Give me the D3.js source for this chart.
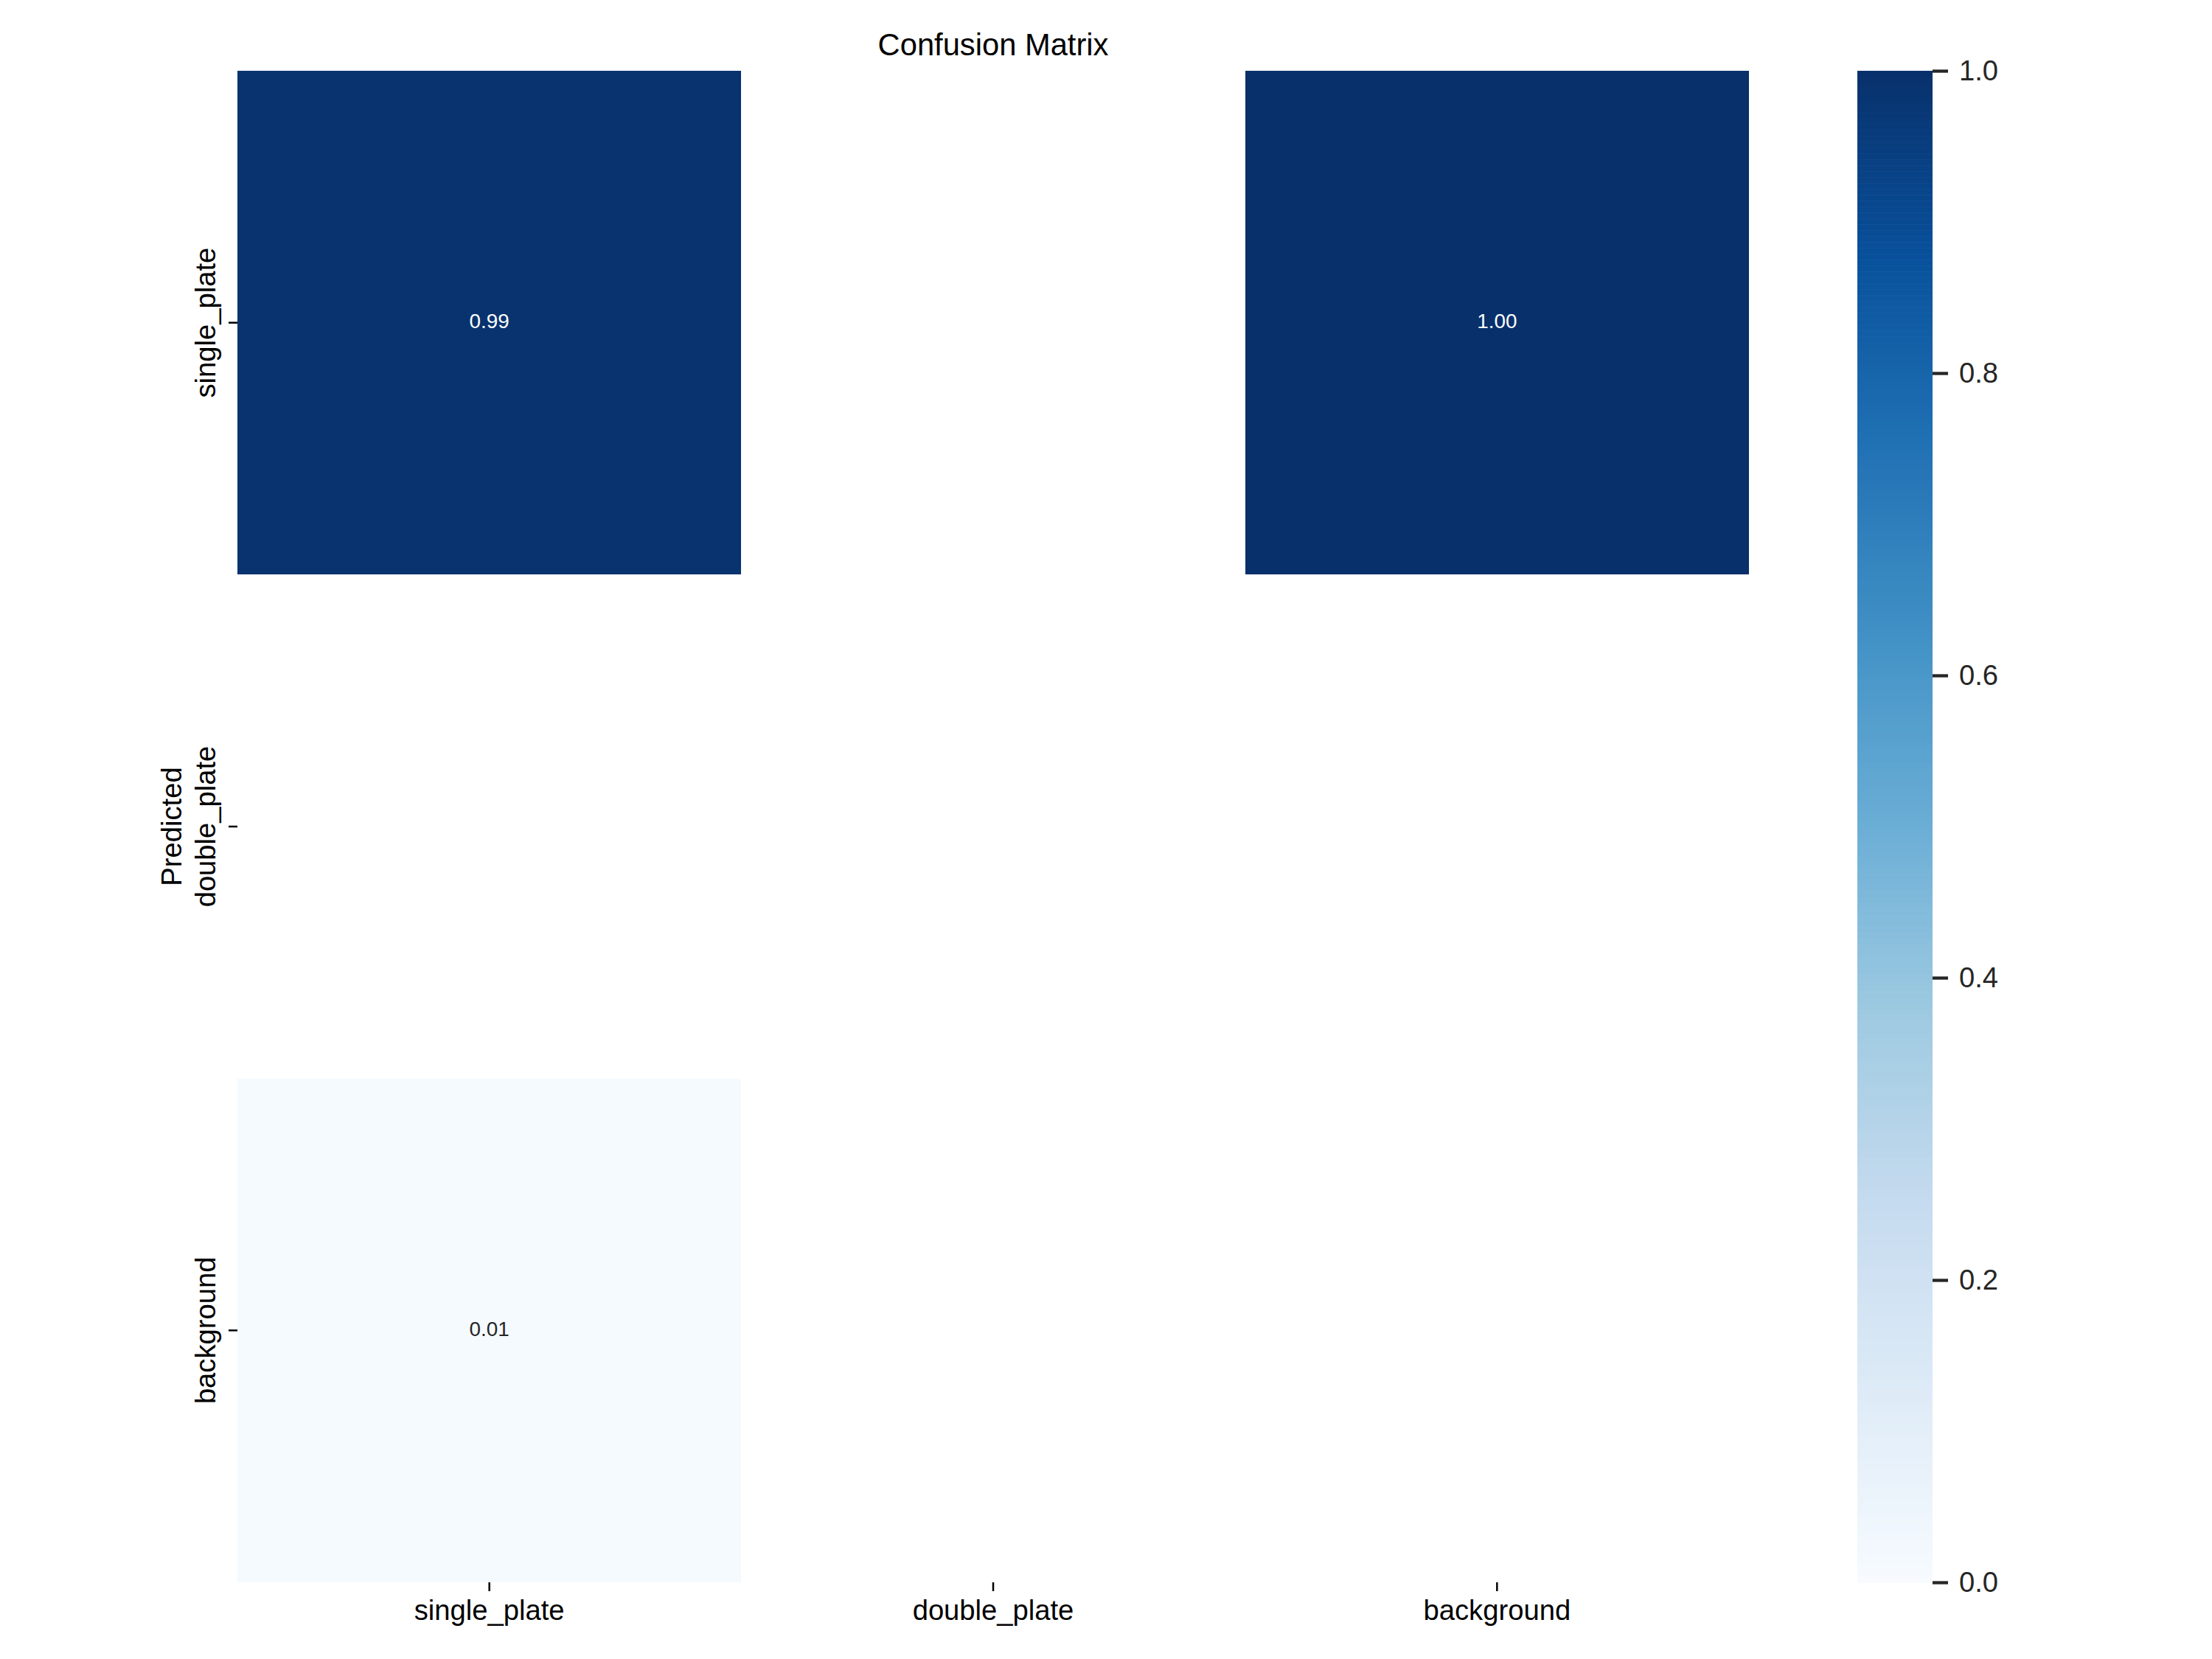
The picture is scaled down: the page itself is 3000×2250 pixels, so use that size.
<!DOCTYPE html>
<html>
<head>
<meta charset="utf-8">
<script src="https://cdn.jsdelivr.net/npm/d3@7"></script>
<style>
  html, body { margin: 0; padding: 0; background: #ffffff; }
  svg { display: block; }
  text { font-family: "Liberation Sans", Arial, sans-serif; }
</style>
</head>
<body>
<script>
// ---- data ----
const categories = ["single_plate", "double_plate", "background"];   // true (x) and predicted (y)
const predictedSinglePlate = [0.99, null, 1.00];
const predictedDoublePlate = [null, null, null];
const predictedBackground  = [0.01, null, null];
const colorbarTicks = [0.0, 0.2, 0.4, 0.6, 0.8, 1.0];
const bluesStops = ["#f7fbff", "#deebf7", "#c6dbef", "#9ecae1", "#6baed6", "#4292c6", "#2171b5", "#08519c", "#08306b"];
const titleText = "Confusion Matrix";
const yLabelText = "Predicted";

const matrixRows = [predictedSinglePlate, predictedDoublePlate, predictedBackground];

// ---- layout ----
const W = 3000, H = 2250;
const hm = { left: 322, right: 2372, top: 96, bottom: 2146 };
const cb = { left: 2519, right: 2621 };

const svg = d3.select("body").append("svg").attr("width", W).attr("height", H);
svg.append("rect").attr("width", W).attr("height", H).attr("fill", "#ffffff");

const x = d3.scaleBand().domain(categories).range([hm.left, hm.right]).padding(0);
const y = d3.scaleBand().domain(categories).range([hm.top, hm.bottom]).padding(0);

const vmin = 0, vmax = 1.0;
const color = d3.scaleLinear()
  .domain(d3.range(bluesStops.length).map(i => vmin + (vmax - vmin) * i / (bluesStops.length - 1)))
  .range(bluesStops)
  .interpolate(d3.interpolateRgb)
  .clamp(true);

// cells
const cells = [];
matrixRows.forEach((row, ri) => row.forEach((v, ci) => {
  if (v !== null) cells.push({ row: categories[ri], col: categories[ci], v });
}));

svg.append("g").selectAll("rect").data(cells).join("rect")
  .attr("x", d => x(d.col))
  .attr("y", d => y(d.row))
  .attr("width", x.bandwidth())
  .attr("height", y.bandwidth())
  .attr("fill", d => color(d.v))
  .attr("shape-rendering", "crispEdges");

function lum(c) {
  const rgb = d3.rgb(c);
  const f = u => { u /= 255; return u <= 0.03928 ? u / 12.92 : Math.pow((u + 0.055) / 1.055, 2.4); };
  return 0.2126 * f(rgb.r) + 0.7152 * f(rgb.g) + 0.0722 * f(rgb.b);
}

svg.append("g").selectAll("text").data(cells).join("text")
  .attr("x", d => x(d.col) + x.bandwidth() / 2)
  .attr("y", d => y(d.row) + y.bandwidth() / 2)
  .attr("dy", "0.28em")
  .attr("text-anchor", "middle")
  .attr("font-size", 27.8)
  .attr("fill", d => lum(color(d.v)) > 0.408 ? "#262626" : "#ffffff")
  .text(d => d3.format(".2f")(d.v));

// x axis
const xAxis = svg.append("g")
  .attr("transform", `translate(0,${hm.bottom})`)
  .call(d3.axisBottom(x).tickSize(12).tickPadding(12));
xAxis.select(".domain").remove();
xAxis.selectAll(".tick line").attr("stroke", "#000").attr("stroke-width", 2.5);
xAxis.selectAll(".tick text").attr("font-size", 38.2).attr("fill", "#000")
  .attr("font-family", '"Liberation Sans", Arial, sans-serif');

// y axis
const yAxis = svg.append("g")
  .attr("transform", `translate(${hm.left},0)`)
  .call(d3.axisLeft(y).tickSize(12).tickPadding(12));
yAxis.select(".domain").remove();
yAxis.selectAll(".tick line").attr("stroke", "#000").attr("stroke-width", 2.5);
yAxis.selectAll(".tick text")
  .attr("font-size", 38.2).attr("fill", "#000")
  .attr("font-family", '"Liberation Sans", Arial, sans-serif')
  .attr("x", null).attr("dy", null)
  .attr("text-anchor", "middle")
  .attr("transform", `translate(${292 - hm.left},0) rotate(-90)`);

// y label
svg.append("text")
  .attr("transform", `translate(246,${(hm.top + hm.bottom) / 2}) rotate(-90)`)
  .attr("text-anchor", "middle")
  .attr("font-size", 38.2)
  .attr("fill", "#000")
  .text(yLabelText);

// title
svg.append("text")
  .attr("x", (hm.left + hm.right) / 2)
  .attr("y", 75)
  .attr("text-anchor", "middle")
  .attr("font-size", 41.7)
  .attr("fill", "#000")
  .text(titleText);

// colorbar
const cbScale = d3.scaleLinear().domain([vmin, vmax]).range([hm.bottom, hm.top]);
const nBands = 256;
const bands = d3.range(nBands).map(i => ({
  v0: vmin + (vmax - vmin) * i / nBands,
  v1: vmin + (vmax - vmin) * (i + 1) / nBands
}));
svg.append("g").selectAll("rect").data(bands).join("rect")
  .attr("x", cb.left)
  .attr("width", cb.right - cb.left)
  .attr("y", d => cbScale(d.v1))
  .attr("height", d => cbScale(d.v0) - cbScale(d.v1) + 0.6)
  .attr("fill", d => color((d.v0 + d.v1) / 2));

const cbAxis = svg.append("g")
  .attr("transform", `translate(${cb.right},0)`)
  .call(d3.axisRight(cbScale).tickValues(colorbarTicks).tickFormat(d3.format(".1f")).tickSize(21).tickPadding(15));
cbAxis.select(".domain").remove();
cbAxis.selectAll(".tick line").attr("stroke", "#262626").attr("stroke-width", 4.3);
cbAxis.selectAll(".tick text").attr("font-size", 38.2).attr("fill", "#262626")
  .attr("font-family", '"Liberation Sans", Arial, sans-serif');
</script>
</body>
</html>
